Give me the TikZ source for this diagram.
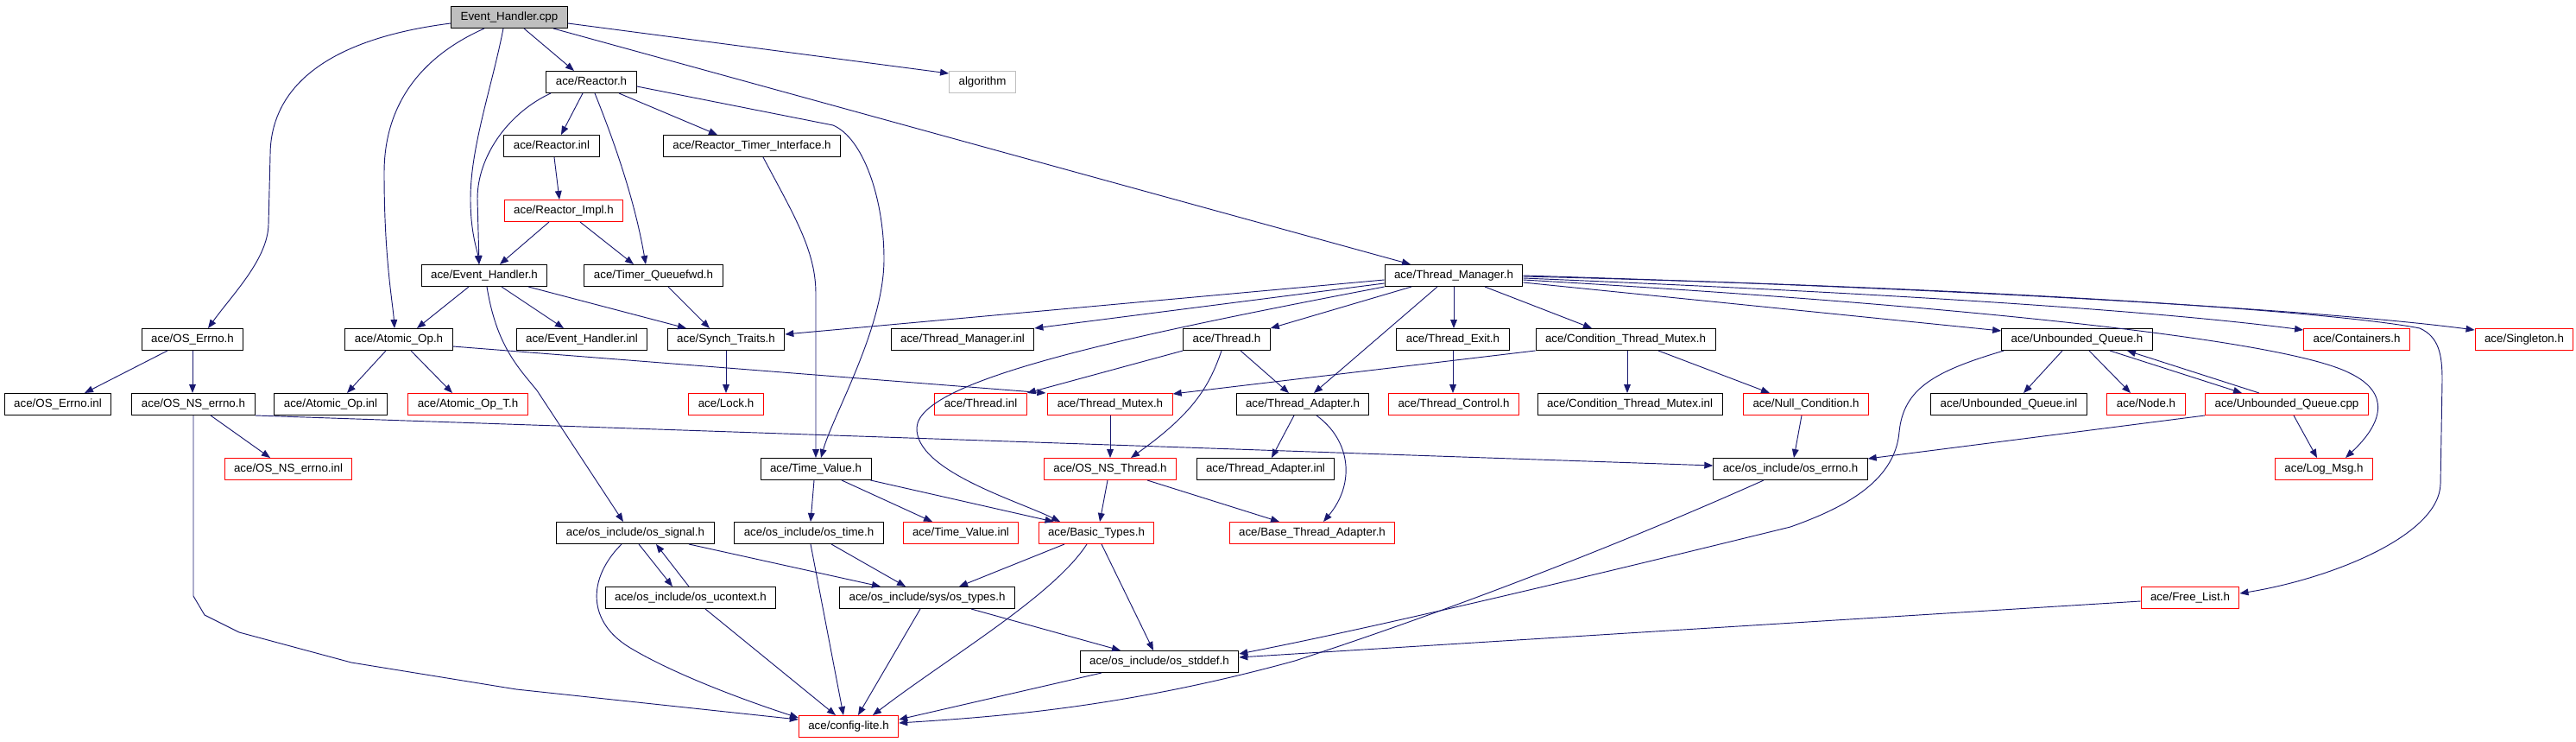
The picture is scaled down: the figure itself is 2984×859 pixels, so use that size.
\documentclass[tikz,border=0pt]{standalone}
\usepackage{fontspec}
\setmainfont{Liberation Sans}
\usetikzlibrary{arrows.meta,calc}
\definecolor{edgecol}{RGB}{25,25,112}
\definecolor{grayc}{RGB}{191,191,191}
\definecolor{redc}{RGB}{255,0,0}
\tikzset{
  box/.style={draw=black, line width=0.75pt, rectangle, fill=white, inner xsep=8.25pt, inner ysep=0pt,
    minimum height=18.75pt, text height=7.4pt, text depth=2.4pt, font=\fontsize{10}{12}\selectfont},
  rbox/.style={box, draw=redc},
  edge/.style={draw=edgecol, line width=0.7pt, -{Triangle[length=7.5pt,width=5.8pt]}}
}
\begin{document}
\begin{tikzpicture}[x=0.75pt,y=-0.75pt]
\fill[white] (0,0) rectangle (2984,859);
\useasboundingbox (0,0) rectangle (2984,859);
% row 0
\node[box,fill=grayc] (root) at (590,20) {Event\_Handler.cpp};
% row 1
\node[box] (reactor) at (685,95) {ace/Reactor.h};
\node[box,draw=grayc] (algorithm) at (1138,95) {algorithm};
% row 2
\node[box] (reactorinl) at (639,169) {ace/Reactor.inl};
\node[box] (rti) at (871,169) {ace/Reactor\_Timer\_Interface.h};
% row 3
\node[rbox] (rimpl) at (653,244) {ace/Reactor\_Impl.h};
% row 4
\node[box] (evh) at (561,319) {ace/Event\_Handler.h};
\node[box] (tqfwd) at (757,319) {ace/Timer\_Queuefwd.h};
\node[box] (tmgr) at (1684,319) {ace/Thread\_Manager.h};
% row 5
\node[box] (oserrno) at (223,393) {ace/OS\_Errno.h};
\node[box] (atomic) at (462,393) {ace/Atomic\_Op.h};
\node[box] (evhinl) at (674,393) {ace/Event\_Handler.inl};
\node[box] (synch) at (841,393) {ace/Synch\_Traits.h};
\node[box] (tmgrinl) at (1115,393) {ace/Thread\_Manager.inl};
\node[box] (thread) at (1421,393) {ace/Thread.h};
\node[box] (texit) at (1683,393) {ace/Thread\_Exit.h};
\node[box] (ctm) at (1883,393) {ace/Condition\_Thread\_Mutex.h};
\node[box] (uq) at (2406,393) {ace/Unbounded\_Queue.h};
\node[rbox] (containers) at (2730,393) {ace/Containers.h};
\node[rbox] (singleton) at (2924,393) {ace/Singleton.h};
% row 6
\node[box] (oserrnoinl) at (67,468) {ace/OS\_Errno.inl};
\node[box] (osnserrno) at (224,468) {ace/OS\_NS\_errno.h};
\node[box] (atomicinl) at (383,468) {ace/Atomic\_Op.inl};
\node[rbox] (atomict) at (542,468) {ace/Atomic\_Op\_T.h};
\node[rbox] (lock) at (841,468) {ace/Lock.h};
\node[rbox] (threadinl) at (1136,468) {ace/Thread.inl};
\node[rbox] (tmutex) at (1286,468) {ace/Thread\_Mutex.h};
\node[box] (tadapter) at (1509,468) {ace/Thread\_Adapter.h};
\node[rbox] (tcontrol) at (1684,468) {ace/Thread\_Control.h};
\node[box] (ctminl) at (1888,468) {ace/Condition\_Thread\_Mutex.inl};
\node[rbox] (nullcond) at (2092,468) {ace/Null\_Condition.h};
\node[box] (uqinl) at (2327,468) {ace/Unbounded\_Queue.inl};
\node[rbox] (nodeh) at (2486,468) {ace/Node.h};
\node[rbox] (uqcpp) at (2649,468) {ace/Unbounded\_Queue.cpp};
% row 7
\node[rbox] (osnserrnoinl) at (334,543) {ace/OS\_NS\_errno.inl};
\node[box] (tv) at (945,543) {ace/Time\_Value.h};
\node[rbox] (osnsthread) at (1286,543) {ace/OS\_NS\_Thread.h};
\node[box] (tadinl) at (1466,543) {ace/Thread\_Adapter.inl};
\node[box] (oserrnoh) at (2074,543) {ace/os\_include/os\_errno.h};
\node[rbox] (logmsg) at (2692,543) {ace/Log\_Msg.h};
% row 8
\node[box] (ossignal) at (736,617) {ace/os\_include/os\_signal.h};
\node[box] (ostime) at (937,617) {ace/os\_include/os\_time.h};
\node[rbox] (tvinl) at (1113,617) {ace/Time\_Value.inl};
\node[rbox] (basic) at (1270,617) {ace/Basic\_Types.h};
\node[rbox] (bta) at (1520,617) {ace/Base\_Thread\_Adapter.h};
% row 9
\node[box] (osucontext) at (800,692) {ace/os\_include/os\_ucontext.h};
\node[box] (ostypes) at (1074,692) {ace/os\_include/sys/os\_types.h};
\node[rbox] (freelist) at (2537,692) {ace/Free\_List.h};
% row 10
\node[box] (osstddef) at (1343,766) {ace/os\_include/os\_stddef.h};
% row 11
\node[rbox] (config) at (983,841) {ace/config-lite.h};

% ---- edges from Event_Handler.cpp
\draw[edge] ($(root.west)+(0,7)$) .. controls (380,45) and (313,100) .. (313,180) -- (311,260) .. controls (310,300) and (270,340) .. ($(oserrno.north)+(18,0)$);
\draw[edge] ($(root.south)+(-29,0)$) .. controls (500,60) and (445,110) .. (445,200) .. controls (445,300) and (455,350) .. ($(atomic.north)+(-5,0)$);
\draw[edge] ($(root.south)+(-7,0)$) .. controls (570,100) and (545,170) .. (545,230) .. controls (545,270) and (553,290) .. ($(evh.north)+(-6,0)$);
\draw[edge] ($(root.south)+(17,0)$) -- ($(reactor.north)+(-20,0)$);
\draw[edge] ($(root.east)+(0,7)$) -- ($(algorithm.west)+(0,-10)$);
\draw[edge] ($(root.south)+(51,0)$) -- ($(tmgr.north)+(-50,0)$);
% ---- Reactor.h
\draw[edge] ($(reactor.south)+(-47,0)$) .. controls (590,130) and (553,180) .. (553,230) -- ($(evh.north)+(-6,0)$);
\draw[edge] ($(reactor.south)+(-10,0)$) -- ($(reactorinl.north)+(11,0)$);
\draw[edge] ($(reactor.south)+(4,0)$) .. controls (710,160) and (735,230) .. ($(tqfwd.north)+(-9,0)$);
\draw[edge] ($(reactor.south)+(32,0)$) -- ($(rti.north)+(-40,0)$);
\draw[edge] ($(reactor.east)+(0,5)$) -- (965,145) .. controls (1000,160) and (1024,230) .. (1024,300) .. controls (1024,380) and (965,480) .. ($(tv.north)+(6,0)$);
\draw[edge] ($(reactorinl.south)+(3,0)$) -- ($(rimpl.north)+(-5,0)$);
\draw[edge] ($(rimpl.south)+(-17,0)$) -- ($(evh.north)+(18,0)$);
\draw[edge] ($(rimpl.south)+(19,0)$) -- ($(tqfwd.north)+(-23,0)$);
\draw[edge] ($(rti.south)+(13,0)$) .. controls (920,250) and (945,290) .. (945,340) -- (tv.north);
% ---- Event_Handler.h
\draw[edge] ($(evh.south)+(-18,0)$) -- ($(atomic.north)+(21,0)$);
\draw[edge] ($(evh.south)+(20,0)$) -- ($(evhinl.north)+(-21,0)$);
\draw[edge] ($(evh.south)+(51,0)$) -- ($(synch.north)+(-46,0)$);
\draw[edge] ($(evh.south)+(3,0)$) .. controls (575,400) and (600,425) .. (622,452) -- ($(ossignal.north)+(-14,0)$);
\draw[edge] ($(tqfwd.south)+(17,0)$) -- ($(synch.north)+(-19,0)$);
% ---- Atomic_Op.h
\draw[edge] ($(atomic.south)+(-15,0)$) -- ($(atomicinl.north)+(19,0)$);
\draw[edge] ($(atomic.south)+(14,0)$) -- ($(atomict.north)+(-18,0)$);
\draw[edge] ($(atomic.east)+(0,8)$) -- ($(tmutex.north west)+(-2,0)$);
% ---- OS_Errno.h / OS_NS_errno.h
\draw[edge] ($(oserrno.south)+(-29,0)$) -- ($(oserrnoinl.north)+(31,0)$);
\draw[edge] (oserrno.south) -- (oserrno.south |- osnserrno.north);
\draw[edge] ($(osnserrno.south)+(20,0)$) -- ($(osnserrnoinl.north)+(-21,0)$);
\draw[edge] (osnserrno.south) -- (224,690) -- (237,712) -- (277,732) -- (407,767) -- (598,798) -- ($(config.west)+(0,-8)$);
\draw[edge] (osnserrno.south east) -- ($(oserrnoh.west)+(0,-4)$);
\draw[edge] (synch.south) -- (lock.north);
% ---- Thread_Manager.h
\draw[edge] ($(tmgr.west)+(0,5)$) -- ($(synch.east)+(0,-6)$);
\draw[edge] ($(tmgr.west)+(0,9)$) -- (tmgrinl.north east);
\draw[edge] (tmgr.south west) .. controls (1300,390) and (1065,440) .. (1062,495) .. controls (1060,545) and (1180,580) .. ($(basic.north)+(-42,0)$);
\draw[edge] ($(tmgr.south)+(-49,0)$) -- (thread.north east);
\draw[edge] ($(tmgr.south)+(-19,0)$) -- ($(tadapter.north)+(13,0)$);
\draw[edge] (tmgr.south) -- (tmgr.south |- texit.north);
\draw[edge] ($(tmgr.south)+(36,0)$) -- ($(ctm.north)+(-39,0)$);
\draw[edge] ($(tmgr.east)+(0,8)$) -- ($(uq.west)+(0,-10)$);
\draw[edge] ($(tmgr.east)+(0,3)$) .. controls (2200,340) and (2500,360) .. ($(containers.west)+(0,-11)$);
\draw[edge] ($(tmgr.east)+(0,0)$) .. controls (2300,335) and (2700,360) .. ($(singleton.west)+(0,-11)$);
\draw[edge] ($(tmgr.east)+(0,1)$) .. controls (2300,333) and (2700,360) .. (2803,380) .. controls (2825,390) and (2829,410) .. (2829,440) -- (2827,560) .. controls (2826,620) and (2700,670) .. ($(freelist.east)+(0,-5)$);
\draw[edge] ($(tmgr.east)+(0,5)$) .. controls (2300,355) and (2650,395) .. (2722,432) .. controls (2770,455) and (2760,490) .. ($(logmsg.north)+(25,0)$);
% ---- Thread.h and friends
\draw[edge] (thread.south west) -- (threadinl.north east);
\draw[edge] ($(thread.south)+(-6,0)$) .. controls (1400,450) and (1380,480) .. ($(osnsthread.north)+(24,0)$);
\draw[edge] ($(thread.south)+(16,0)$) -- ($(tadapter.north)+(-16,0)$);
\draw[edge] (tmutex.south) -- (osnsthread.north);
\draw[edge] (ctm.south west) -- ($(tmutex.north east)+(0,1)$);
\draw[edge] ($(ctm.south)+(2,0)$) -- ($(ctminl.north)+(-3,0)$);
\draw[edge] ($(ctm.south)+(38,0)$) -- ($(nullcond.north)+(-42,0)$);
\draw[edge] (texit.south) -- (texit.south |- tcontrol.north);
\draw[edge] ($(tadapter.south)+(-10,0)$) -- ($(tadinl.north)+(7,0)$);
\draw[edge] ($(tadapter.south)+(16,0)$) .. controls (1565,510) and (1570,560) .. ($(bta.north)+(13,0)$);
\draw[edge] ($(osnsthread.south)+(-3,0)$) -- ($(basic.north)+(4,0)$);
\draw[edge] ($(osnsthread.south)+(43,0)$) -- ($(bta.north)+(-38,0)$);
\draw[edge] ($(nullcond.south)+(-5,0)$) -- ($(oserrnoh.north)+(4,0)$);
% ---- Unbounded_Queue
\draw[edge] ($(uq.south)+(-17,0)$) -- ($(uqinl.north)+(17,0)$);
\draw[edge] ($(uq.south)+(14,0)$) -- ($(nodeh.north)+(-18,0)$);
\draw[edge] ($(uq.south)+(38,0)$) -- ($(uqcpp.north)+(-52,0)$);
\draw[edge] ($(uqcpp.north)+(-32,0)$) -- ($(uq.south)+(58,0)$);
\draw[edge] ($(uq.south west)+(3,0)$) .. controls (2240,430) and (2205,450) .. (2200,500) .. controls (2195,560) and (2130,590) .. (2074,610) .. controls (1850,665) and (1600,725) .. ($(osstddef.east)+(0,-9)$);
\draw[edge] ($(uqcpp.south)+(8,0)$) -- ($(logmsg.north)+(-8,0)$);
\draw[edge] (uqcpp.south west) -- ($(oserrnoh.north east)+(0,1)$);
\draw[edge] ($(freelist.west)+(0,4)$) -- ($(osstddef.east)+(0,-5)$);
\draw[edge] ($(oserrnoh.south)+(-31,0)$) .. controls (1900,620) and (1700,700) .. (1500,765) .. controls (1300,820) and (1150,830) .. ($(config.east)+(0,-4)$);
% ---- Time_Value.h
\draw[edge] ($(tv.south)+(-2,0)$) -- ($(ostime.north)+(2,0)$);
\draw[edge] ($(tv.south)+(30,0)$) -- ($(tvinl.north)+(-33,0)$);
\draw[edge] ($(tv.south east)+(-1,0)$) -- ($(basic.north west)+(18,0)$);
% ---- os_signal / os_ucontext / os_time
\draw[edge] ($(ossignal.south)+(62,0)$) -- ($(ostypes.north)+(-54,0)$);
\draw[edge] ($(ossignal.south)+(4,0)$) -- ($(osucontext.north)+(-21,0)$);
\draw[edge] ($(osucontext.north)+(-2,0)$) -- ($(ossignal.south)+(24,0)$);
\draw[edge] ($(ossignal.south)+(-16,0)$) .. controls (680,670) and (680,720) .. (730,750) .. controls (780,780) and (860,810) .. ($(config.north west)+(0,3)$);
\draw[edge] ($(osucontext.south)+(17,0)$) -- ($(config.north)+(-15,0)$);
\draw[edge] ($(ostime.south)+(2,0)$) -- ($(config.north)+(-6,0)$);
\draw[edge] ($(ostime.south)+(26,0)$) -- ($(ostypes.north)+(-25,0)$);
% ---- Basic_Types / os_types / os_stddef
\draw[edge] ($(basic.south)+(-37,0)$) -- ($(ostypes.north)+(37,0)$);
\draw[edge] ($(basic.south)+(-11,0)$) .. controls (1220,690) and (1100,760) .. ($(config.north)+(28,0)$);
\draw[edge] ($(basic.south)+(6,0)$) -- ($(osstddef.north)+(-7,0)$);
\draw[edge] ($(ostypes.south)+(-8,0)$) -- ($(config.north)+(11,0)$);
\draw[edge] ($(ostypes.south)+(51,0)$) -- ($(osstddef.north)+(-45,0)$);
\draw[edge] ($(osstddef.south)+(-67,0)$) -- ($(config.east)+(0,-8)$);
\end{tikzpicture}
\end{document}
